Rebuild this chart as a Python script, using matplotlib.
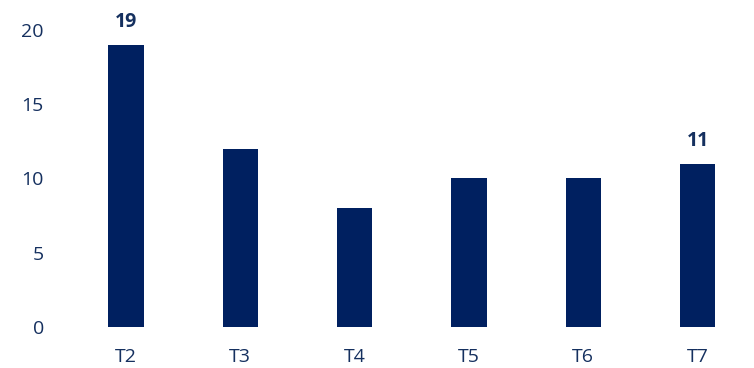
import matplotlib
matplotlib.use('Agg')
from matplotlib import pyplot as plt

categories = ['T2', 'T3', 'T4', 'T5', 'T6', 'T7']
counts = [19, 12, 8, 10, 10, 11]
labelled = [0, 5]  # bars that carry a value label

bar_color = '#002060'
text_color = '#15305F'

plt.rcParams['font.family'] = ['Open Sans', 'DejaVu Sans']

fig = plt.figure(figsize=(7.54, 3.68), dpi=100)
ax = fig.add_axes([0.0912, 0.1114, 0.910, 0.8886])

x = list(range(len(categories)))
ax.bar(x, counts, width=0.31, color=bar_color)

for i in labelled:
    ax.annotate(str(counts[i]), (x[i], counts[i]), xytext=(0, 9),
                textcoords='offset points', ha='center', va='bottom',
                fontsize=14, fontweight='bold', color=text_color)

ax.set_xlim(-0.5, 5.5)
ax.set_ylim(0, 22)
ax.set_yticks([0, 5, 10, 15, 20])
ax.set_xticks(x)
ax.set_xticklabels(categories)

for side in ['top', 'right', 'left', 'bottom']:
    ax.spines[side].set_visible(False)
ax.tick_params(axis='both', length=0, labelsize=14, labelcolor=text_color)
ax.tick_params(axis='y', pad=18)
ax.tick_params(axis='x', pad=15)

fig.savefig('out.png', dpi=100)
